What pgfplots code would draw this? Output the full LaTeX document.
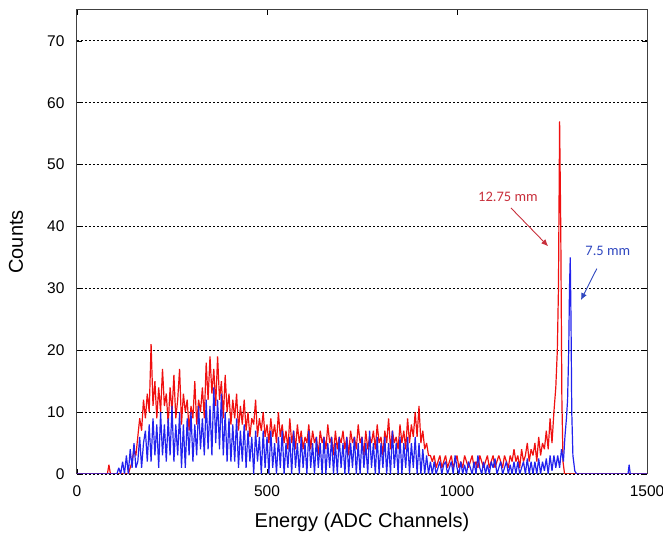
\documentclass[border=0pt]{standalone}
\usepackage{pgfplots}
\pgfplotsset{compat=1.18}
\usetikzlibrary{arrows.meta}
\usepackage{fontspec}
\setmainfont{Liberation Sans}
\newfontfamily\calib{Carlito}
\definecolor{serred}{HTML}{F01010}
\definecolor{serblue}{HTML}{2222EE}
\definecolor{annred}{HTML}{C8303C}
\definecolor{annblue}{HTML}{3048C0}
\begin{document}
\begin{tikzpicture}
\begin{axis}[
  width=570pt, height=464pt, scale only axis,
  xmin=0, xmax=1500, ymin=0, ymax=75,
  xtick={0,500,1000,1500}, ytick={0,10,...,70},
  tick align=inside, tick pos=both,
  major tick length=5pt,
  tick style={black, line width=0.8pt},
  axis line style={black!75, line width=1pt},
  ymajorgrids,
  grid style={black, dash pattern=on 1.8pt off 2.2pt, line width=0.9pt},
  ticklabel style={font=\fontsize{15.5}{15.5}\selectfont},
  xticklabel style={yshift=-8pt},
  yticklabel style={xshift=-9pt},
  /pgf/number format/assume math mode=true,
  /pgf/number format/set thousands separator={},
  scaled x ticks=false,
  xlabel={Energy (ADC Channels)},
  ylabel={Counts},
  label style={font=\fontsize{20}{20}\selectfont},
  xlabel style={at={(axis description cs:0.5,-0.1034)}, anchor=center},
  ylabel style={at={(axis description cs:-0.107,0.5)}, anchor=center, rotate=0},
  clip mode=individual,
]
% red series (12.75 mm)
\addplot[serred, line width=1.2pt, line join=bevel] coordinates {
(0,0)(80,0)(84,1.5)(88,0)(135,0)(140,1)(145,2)(150,4)(155,3)(160,6)(165,9)(170,7)(175,12)(180,9)(185,13)(190,10)(195,21)(200,11)(205,15)(210,9)(215,14)(220,10)(225,17)(230,11)(235,13)(240,8)(245,14)(250,10)(255,16)(260,9)(265,12)(270,17)(275,8)(280,13)(285,10)(290,12)(295,7)(300,11)(305,9)(310,15)(315,8)(320,12)(325,10)(330,14)(335,9)(340,18)(345,12)(350,19)(355,13)(360,17)(365,11)(370,19)(375,12)(380,15)(385,9)(390,16)(395,10)(400,13)(405,8)(410,12)(415,9)(420,13)(425,7)(430,11)(435,8)(440,12)(445,7)(450,10)(455,6)(460,9)(465,8)(470,12)(475,6)(480,9)(485,7)(490,10)(495,6)(500,8)(505,5)(510,9)(515,6)(520,8)(525,5)(530,10)(535,6)(540,8)(545,5)(550,7)(555,4)(560,9)(565,5)(570,7)(575,4)(580,8)(585,5)(590,7)(595,4)(600,6)(605,5)(610,8)(615,4)(620,7)(625,5)(630,6)(635,3)(640,7)(645,5)(650,6)(655,4)(660,8)(665,5)(670,6)(675,3)(680,7)(685,4)(690,6)(695,5)(700,7)(705,4)(710,6)(715,3)(720,7)(725,5)(730,6)(735,4)(740,8)(745,5)(750,6)(755,3)(760,7)(765,4)(770,6)(775,5)(780,7)(785,4)(790,8)(795,5)(800,6)(805,3)(810,7)(815,5)(820,9)(825,4)(830,7)(835,5)(840,6)(845,4)(850,8)(855,5)(860,7)(865,4)(870,9)(875,5)(880,8)(885,6)(890,10)(895,6)(900,11)(905,5)(910,7)(915,4)(920,5)(925,3)(930,3)(935,2)(940,3)(945,1)(950,2)(955,3)(960,1)(965,2)(970,3)(975,1)(980,2)(985,3)(990,1)(995,2)(1000,3)(1005,1)(1010,2)(1015,1)(1020,3)(1025,2)(1030,1)(1035,2)(1040,3)(1045,1)(1050,2)(1055,1)(1060,3)(1065,2)(1070,1)(1075,2)(1080,3)(1085,1)(1090,2)(1095,3)(1100,1)(1105,2)(1110,3)(1115,2)(1120,1)(1125,3)(1130,2)(1135,1)(1140,3)(1145,2)(1150,4)(1155,2)(1160,3)(1165,1)(1170,4)(1175,2)(1180,3)(1185,5)(1190,2)(1195,4)(1200,3)(1205,5)(1210,2)(1215,6)(1220,3)(1225,5)(1230,4)(1235,7)(1240,4)(1245,9)(1250,5)(1255,10)(1260,14)(1264,20)(1267,30)(1270,57)(1273,40)(1276,12)(1279,2)(1283,0)(1500,0)
};
% blue series (7.5 mm)
\addplot[serblue, line width=1.2pt, line join=bevel] coordinates {
(0,0)(105,0)(110,1)(115,0)(120,2)(125,0)(130,3)(135,0)(140,4)(145,1)(150,5)(155,1)(160,2)(165,6)(170,1)(175,5)(180,7)(185,2)(190,8)(195,2)(200,9)(205,3)(210,8)(215,1)(220,10)(225,3)(230,8)(235,2)(240,9)(245,3)(250,11)(255,2)(260,8)(265,3)(270,10)(275,1)(280,8)(285,1)(290,9)(295,3)(300,10)(305,2)(310,8)(315,3)(320,11)(325,4)(330,9)(335,3)(340,12)(345,4)(350,11)(355,3)(360,14)(365,5)(370,12)(375,4)(380,13)(385,3)(390,10)(395,2)(400,9)(405,2)(410,8)(415,2)(420,9)(425,1)(430,7)(435,2)(440,8)(445,1)(450,7)(455,2)(460,6)(465,0)(470,7)(475,2)(480,6)(485,0)(490,7)(495,1)(500,6)(505,0)(510,7)(515,1)(520,5)(525,0)(530,6)(535,1)(540,7)(545,0)(550,5)(555,1)(560,6)(565,0)(570,7)(575,1)(580,5)(585,0)(590,6)(595,1)(600,5)(605,0)(610,7)(615,1)(620,5)(625,0)(630,6)(635,1)(640,5)(645,0)(650,6)(655,0)(660,5)(665,1)(670,6)(675,0)(680,5)(685,0)(690,6)(695,1)(700,5)(705,0)(710,6)(715,0)(720,5)(725,1)(730,6)(735,0)(740,5)(745,0)(750,6)(755,1)(760,5)(765,0)(770,7)(775,1)(780,5)(785,0)(790,6)(795,0)(800,5)(805,1)(810,6)(815,0)(820,5)(825,0)(830,7)(835,1)(840,5)(845,0)(850,6)(855,0)(860,5)(865,1)(870,6)(875,0)(880,5)(885,1)(890,6)(895,0)(900,5)(905,0)(910,4)(915,0)(920,3)(925,0)(930,2)(935,0)(940,2)(945,0)(950,1)(955,2)(960,0)(965,1.5)(970,2)(975,0)(980,1)(985,2)(990,0)(995,3)(1000,1)(1005,0)(1010,2)(1015,0)(1020,1.5)(1025,0)(1030,2)(1035,1)(1040,0)(1045,2)(1050,0)(1055,3)(1060,1)(1065,0)(1070,2)(1075,0)(1080,1.5)(1085,0)(1090,2)(1095,1)(1100,2.5)(1105,0)(1110,1)(1115,2)(1120,0)(1125,1)(1130,2)(1135,0)(1140,1.5)(1145,0)(1150,2)(1155,0)(1160,2)(1165,0)(1170,1)(1175,2)(1180,0)(1185,2.5)(1190,0)(1195,2)(1200,0)(1205,2)(1210,0)(1215,2.5)(1220,0)(1225,2)(1230,0.5)(1235,2.5)(1240,0)(1245,3)(1250,0.5)(1255,3)(1260,1)(1265,3)(1270,1)(1275,4)(1280,2)(1284,6)(1288,9)(1291,12)(1294,20)(1296,30)(1298,35)(1300,25)(1302,10)(1305,3)(1310,0.5)(1315,0)(1450,0)(1453,1.5)(1456,0)(1500,0)
};
\node[text=annred, font=\calib\fontsize{14.5}{14.5}\selectfont] at (axis cs:1134,44.8) {12.75 mm};
\draw[annred, line width=0.9pt, -{Latex[length=7pt,width=6pt]}] (axis cs:1142,43.0) -- (axis cs:1240,36.8);
\node[text=annblue, font=\calib\fontsize{14.5}{14.5}\selectfont] at (axis cs:1397,36.1) {7.5 mm};
\draw[annblue, line width=0.9pt, -{Latex[length=7pt,width=6pt]}] (axis cs:1368,33.2) -- (axis cs:1326,28.1);
\end{axis}
\pgfresetboundingbox
\useasboundingbox ([xshift=-77pt,yshift=-68pt]current axis.south west) rectangle ([xshift=16pt,yshift=10pt]current axis.north east);
\end{tikzpicture}
\end{document}
